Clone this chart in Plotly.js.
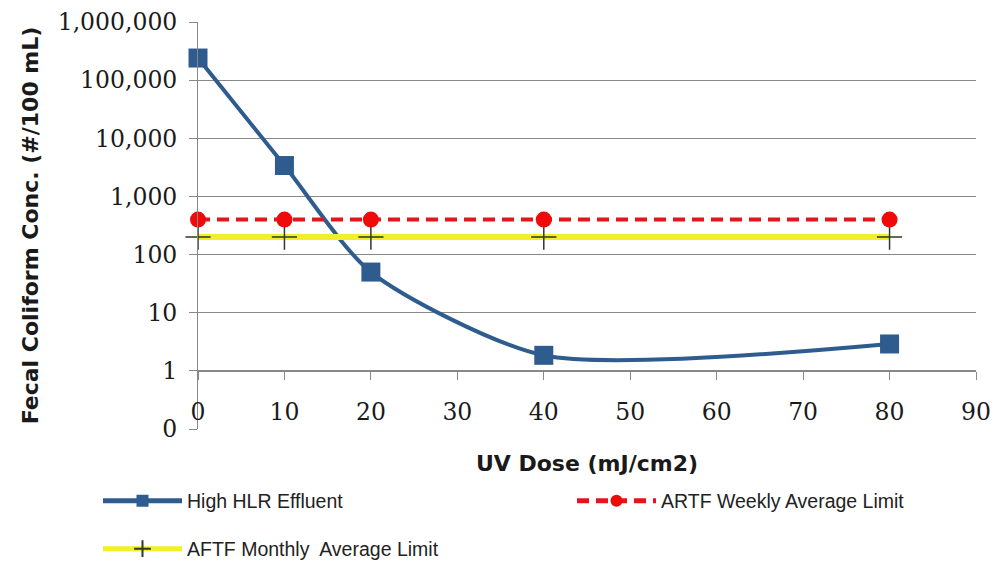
<!DOCTYPE html>
<html>
<head>
<meta charset="utf-8">
<script src="https://cdn.plot.ly/plotly-3.0.1.min.js"></script>
<style>html,body{margin:0;padding:0;background:#fff;}#chart{width:995px;height:563px;}</style>
</head>
<body>
<div id="chart"></div>
<script>
const dose = [0, 10, 20, 40, 80];
const highHLR = [240000, 3400, 50, 1.85, 2.9];
const weeklyLimit = [400, 400, 400, 400, 400];
const monthlyLimit = [200, 200, 200, 200, 200];
const yTickVals = [0.1, 1, 10, 100, 1000, 10000, 100000, 1000000];
const yTickText = ['0', '1', '10', '100', '1,000', '10,000', '100,000', '1,000,000'];
const xTickVals = [0, 10, 20, 30, 40, 50, 60, 70, 80, 90];

const tickFont = {family: 'DejaVu Serif', size: 23.5, color: '#1a1a1a'};
const titleFont = {family: 'DejaVu Sans', size: 22, color: '#1a1a1a', weight: 'bold'};
const legFont = {family: 'Liberation Sans, Arial, sans-serif', size: 19.5, color: '#222'};

const traces = [
  {x: dose, y: highHLR, name: 'High HLR Effluent', type: 'scatter', mode: 'lines+markers',
   line: {color: '#2F5C8F', width: 4, shape: 'spline', smoothing: 0.7},
   marker: {symbol: 'square', size: 19, color: '#2F5C8F'}, cliponaxis: false, legend: 'legend'},
  {x: dose, y: monthlyLimit, name: 'AFTF Monthly  Average Limit', type: 'scatter', mode: 'lines+markers',
   line: {color: '#F2EE2A', width: 6},
   marker: {symbol: 'cross-thin', size: 18, line: {color: '#2B3A2B', width: 1.5}}, cliponaxis: false, legend: 'legend3'},
  {x: dose, y: weeklyLimit, name: 'ARTF Weekly Average Limit', type: 'scatter', mode: 'lines+markers',
   line: {color: '#E8141B', width: 4, dash: '12px,7px'},
   marker: {symbol: 'circle', size: 16, color: '#F00A0A'}, cliponaxis: false, legend: 'legend2'}
];

const legCommon = {xanchor: 'left', yanchor: 'middle', font: legFont, itemwidth: 79, itemsizing: 'constant',
                   bgcolor: 'rgba(0,0,0,0)', borderwidth: 0};

const layout = {
  width: 995, height: 563,
  margin: {l: 198, r: 19, t: 22, b: 134, autoexpand: false},
  paper_bgcolor: '#fff', plot_bgcolor: '#fff',
  showlegend: true,
  xaxis: {
    range: [0, 90], tickvals: xTickVals, anchor: 'free', position: 1/7, tickangle: 0,
    showline: true, linecolor: '#888', linewidth: 1,
    ticks: 'outside', ticklen: 8, tickcolor: '#888',
    showgrid: false, zeroline: false, tickfont: tickFont, ticklabelstandoff: 12,
    title: {text: 'UV Dose (mJ/cm2)', font: titleFont, standoff: 30}
  },
  yaxis: {
    type: 'log', range: [-1, 6], tickvals: yTickVals, ticktext: yTickText,
    showline: true, linecolor: '#888', linewidth: 1,
    ticks: 'outside', ticklen: 8, tickcolor: '#888',
    showgrid: true, gridcolor: '#888', gridwidth: 1, zeroline: false,
    tickfont: tickFont, ticklabelstandoff: 7,
    title: {text: 'Fecal Coliform Conc. (#/100 mL)', font: titleFont, standoff: 12}
  },
  legend: Object.assign({x: (98 - 198) / 778, y: (429 - 501) / 407}, legCommon),
  legend2: Object.assign({x: (572 - 198) / 778, y: (429 - 501) / 407}, legCommon),
  legend3: Object.assign({x: (98 - 198) / 778, y: (429 - 549) / 407}, legCommon)
};

Plotly.newPlot('chart', traces, layout, {displayModeBar: false, staticPlot: true});
</script>
</body>
</html>
